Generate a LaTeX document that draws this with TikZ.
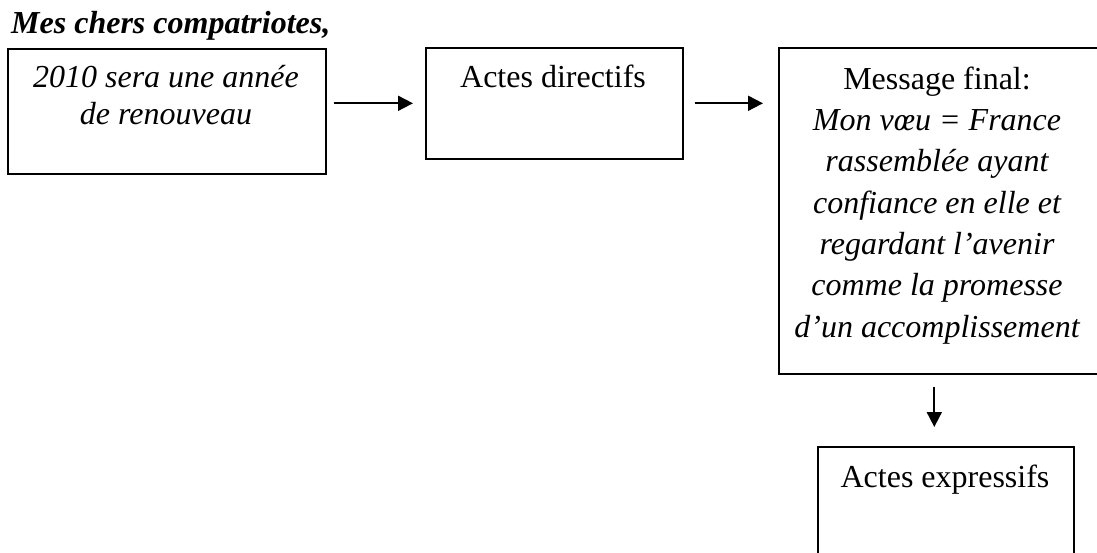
\documentclass[tikz,border=0pt]{standalone}
\usepackage{fontspec}
\setmainfont{Liberation Serif}
\usetikzlibrary{arrows.meta,calc}
\begin{document}
\begin{tikzpicture}[x=1pt,y=-1pt,
  box/.style={draw,line width=1.6pt,anchor=north west,inner sep=0pt},
  txt/.style={font=\fontsize{32}{41.3}\selectfont,align=center,inner sep=0pt,anchor=base},
  arr/.style={line width=1.8pt,-{Triangle[length=15pt,width=15pt]}}]
\useasboundingbox (0,0) rectangle (1097,552);
\clip (0,0) rectangle (1097,552);
% title
\node[font=\fontsize{32}{38}\selectfont\bfseries\itshape,inner sep=0pt,anchor=base west] (title) at (11,33) {Mes chers compatriotes,};
% boxes
\node[box,minimum width=318pt,minimum height=125pt] (b1) at (7,48) {};
\node[box,minimum width=257pt,minimum height=111pt] (b2) at (425,47) {};
\node[box,minimum width=321pt,minimum height=326pt] (b3) at (778,47) {};
\node[box,minimum width=256pt,minimum height=120pt] (b4) at (817,446) {};
% texts (anchor = baseline of last line)
\node[txt,font=\fontsize{32}{37}\selectfont\itshape] (t1) at (166,124) {2010 sera une année\\de renouveau};
\node[txt] (t2) at (553,87) {Actes directifs};
\node[txt] (t3) at (937,337) {Message final:\\{\itshape Mon vœu = France}\\{\itshape rassemblée ayant}\\{\itshape confiance en elle et}\\{\itshape regardant l’avenir}\\{\itshape comme la promesse}\\{\itshape d’un accomplissement}};
\node[txt] (t4) at (945,487) {Actes expressifs};
% arrows
\draw[arr,shorten <=7pt,shorten >=12pt] (b1.east |- b2.west) -- (b2.west);
\draw[arr,shorten <=11pt,shorten >=15pt] (b2.east) -- (b2.east -| b3.west);
\draw[arr,shorten <=12pt,shorten >=19pt] ([xshift=-5pt]b3.south) -- ([xshift=-5pt]b3.south |- b4.north);
\end{tikzpicture}
\end{document}
